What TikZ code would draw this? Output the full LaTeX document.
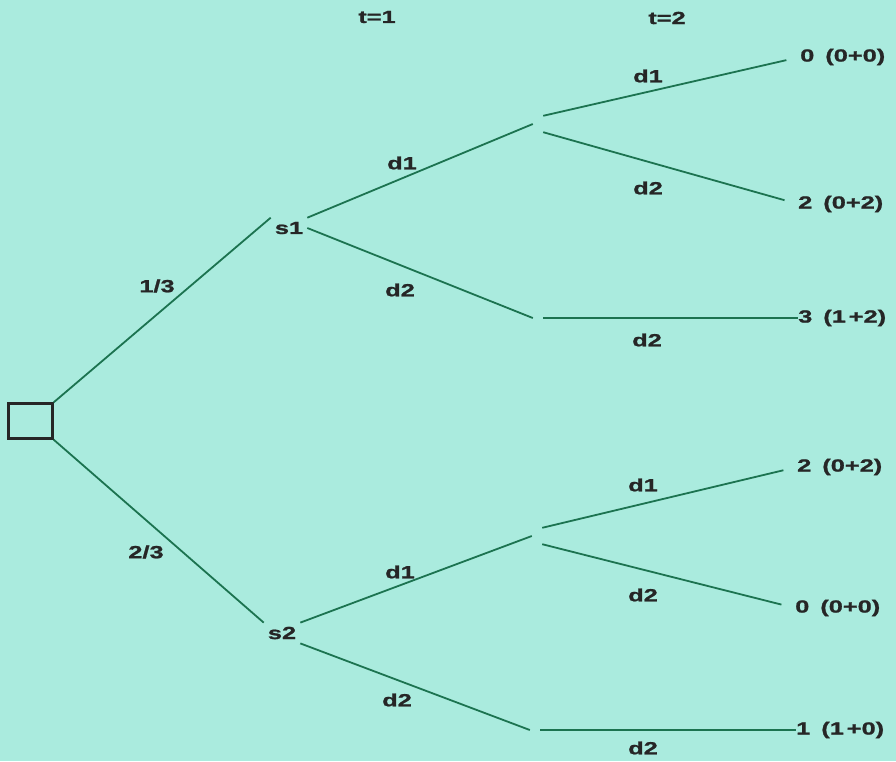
\documentclass[tikz,border=0pt]{standalone}
\usepackage{fontspec}
\newfontfamily\lblfont[FakeStretch=1.45,FakeBold=1.2]{Liberation Sans Bold}
\definecolor{bg}{RGB}{170,235,222}
\definecolor{ln}{RGB}{28,115,80}
\definecolor{tx}{RGB}{38,38,38}
\begin{document}
\begin{tikzpicture}[x=1pt,y=-1pt,
  lbl/.style={font=\lblfont\fontsize{17.5}{20}\selectfont, text=tx, inner sep=0pt},
  state/.style={lbl, inner sep=4pt},
  edge/.style={draw=ln, line width=1.8pt},
  jn/.style={rectangle, minimum width=10pt, minimum height=16pt, inner sep=0pt},
  gap/.style={shorten >=14pt}]
\fill[bg] (0,0) rectangle (896,761);
\useasboundingbox (0,0) rectangle (896,761);

% nodes
\node[draw=tx, line width=2.3pt, minimum width=44pt, minimum height=35pt, inner sep=0pt] (root) at (30.5,421) {};
\node[lbl] (t1) at (377,17) {t=1};
\node[lbl] (t2) at (667,18) {t=2};
\node[state] (s1) at (289,228) {s1};
\node[state] (s2) at (282,633) {s2};
\node[jn] (A1) at (538,124) {};
\node[jn] (A2) at (538,318) {};
\node[jn] (B1) at (537,536) {};
\node[jn] (B2) at (535,730) {};

\node[lbl, anchor=west] (e1) at (800,57) {0\hspace{11pt}(0+0)};
\node[lbl, anchor=west] (e2) at (798,204) {2\hspace{11pt}(0+2)};
\node[lbl, anchor=west] (e3) at (798,318) {3\hspace{11pt}(1\,+2)};
\node[lbl, anchor=west] (e4) at (797,467) {2\hspace{11pt}(0+2)};
\node[lbl, anchor=west] (e5) at (795,608) {0\hspace{11pt}(0+0)};
\node[lbl, anchor=west] (e6) at (796,730) {1\hspace{11pt}(1\,+0)};

% connectors
\draw[edge] (root.north east) -- (s1.north west);
\draw[edge] (root.south east) -- (s2.north west);
\draw[edge] (s1.north east) -- (A1.west);
\draw[edge] (s1.east) -- (A2.west);
\draw[edge] (s2.north east) -- (B1.west);
\draw[edge] (s2.south east) -- (B2.west);
\draw[edge, gap] (A1.north east) -- (e1.west);
\draw[edge, gap] (A1.south east) -- (e2.west);
\draw[edge] (A2.east) -- (e3.west);
\draw[edge, gap] (B1.north east) -- (e4.west);
\draw[edge, gap] (B1.south east) -- (e5.west);
\draw[edge] (B2.east) -- (e6.west);

% edge labels
\node[lbl] (p1) at (157,286) {1/3};
\node[lbl] (p2) at (146,552) {2/3};
\node[lbl] (l1) at (402,163) {d1};
\node[lbl] (l2) at (400,290) {d2};
\node[lbl] (l3) at (648,76) {d1};
\node[lbl] (l4) at (648,188) {d2};
\node[lbl] (l5) at (647,340) {d2};
\node[lbl] (l6) at (400,572) {d1};
\node[lbl] (l7) at (397,700) {d2};
\node[lbl] (l8) at (643,485) {d1};
\node[lbl] (l9) at (643,595) {d2};
\node[lbl] (l10) at (643,748) {d2};
\end{tikzpicture}
\end{document}
